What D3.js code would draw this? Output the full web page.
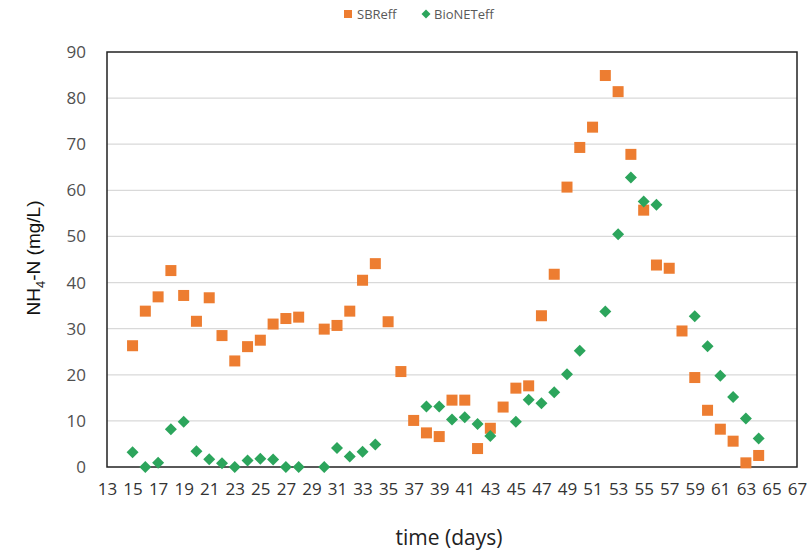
<!DOCTYPE html>
<html>
<head>
<meta charset="utf-8">
<script src="https://cdn.jsdelivr.net/npm/d3@7"></script>
<style>
  body { margin: 0; background: #fff; }
  svg { display: block; }
</style>
</head>
<body>
<div id="chart"></div>
<script>
// SBR effluent NH4-N (mg/L) by day
const sbrDays = [15,16,17,18,19,20,21,22,23,24,25,26,27,28,
  30,31,32,33,34,35,36,37,38,39,40,41,42,43,44,45,46,47,48,49,
  50,51,52,53,54,55,56,57,58,59,60,61,62,63,64];
const sbrValues = [26.3,33.8,36.9,42.6,37.2,31.6,36.7,28.5,23.0,26.1,27.5,31.0,32.2,32.5,
  29.9,30.7,33.8,40.5,44.1,31.5,20.7,10.1,7.4,6.6,14.5,14.5,4.0,8.4,13.0,17.1,17.6,32.8,41.8,60.7,
  69.3,73.7,84.9,81.4,67.8,55.7,43.8,43.1,29.5,19.4,12.3,8.2,5.6,0.9,2.5];

// BioNET effluent NH4-N (mg/L) by day
const bioDays = [15,16,17,18,19,20,21,22,23,24,25,26,27,28,
  30,31,32,33,34,38,39,40,41,42,43,45,46,47,48,49,50,
  52,53,54,55,56,59,60,61,62,63,64];
const bioValues = [3.2,0,0.9,8.2,9.8,3.4,1.7,0.8,0,1.4,1.8,1.6,0,0,
  0,4.1,2.3,3.3,4.9,13.1,13.1,10.3,10.8,9.3,6.7,9.8,14.6,13.8,16.2,20.1,25.2,
  33.7,50.5,62.8,57.6,56.9,32.7,26.2,19.8,15.2,10.5,6.2];

const xTicks = d3.range(13, 68, 2);
const yTicks = d3.range(0, 91, 10);

const seriesNames = ["SBReff", "BioNETeff"];
const colors = { SBReff: "#ed7d31", BioNETeff: "#2ca55c" };

const W = 811, H = 553;
const margin = { top: 52, right: 14, bottom: 86, left: 107 };
const width = W - margin.left - margin.right;
const height = H - margin.top - margin.bottom;

const svg = d3.select("#chart").append("svg")
  .attr("width", W)
  .attr("height", H);

const g = svg.append("g")
  .attr("transform", `translate(${margin.left},${margin.top})`);

const x = d3.scaleLinear().domain([13, 67]).range([0, width]);
const y = d3.scaleLinear().domain([0, 90]).range([height, 0]);

// horizontal gridlines
g.append("g")
  .selectAll("line")
  .data(yTicks.filter(d => d > 0 && d < 90))
  .join("line")
  .attr("x1", 0).attr("x2", width)
  .attr("y1", d => y(d)).attr("y2", d => y(d))
  .attr("stroke", "#d9d9d9")
  .attr("stroke-width", 1.2);

// y axis labels
const yAxis = g.append("g")
  .call(d3.axisLeft(y).tickValues(yTicks).tickSize(0).tickPadding(21));
yAxis.select(".domain").remove();
yAxis.selectAll("text")
  .style("font-family", "'Open Sans', sans-serif")
  .style("font-size", "17px")
  .attr("fill", "#505050");

// x axis labels
const xAxis = g.append("g")
  .attr("transform", `translate(0,${height})`)
  .call(d3.axisBottom(x).tickValues(xTicks).tickSize(0).tickPadding(16));
xAxis.select(".domain").remove();
xAxis.selectAll("text")
  .style("font-family", "'Open Sans', sans-serif")
  .style("font-size", "17px")
  .attr("fill", "#333");

// plot border
g.append("rect")
  .attr("x", 0).attr("y", 0)
  .attr("width", width).attr("height", height)
  .attr("fill", "none")
  .attr("stroke", "#222")
  .attr("stroke-width", 1.5);

// SBR squares
g.append("g")
  .selectAll("rect")
  .data(sbrDays.map((d, i) => ({ day: d, v: sbrValues[i] })))
  .join("rect")
  .attr("x", d => x(d.day) - 5.5)
  .attr("y", d => y(d.v) - 5.5)
  .attr("width", 11)
  .attr("height", 11)
  .attr("fill", colors.SBReff);

// BioNET diamonds
const diamond = "M0,-6L6,0L0,6L-6,0Z";
g.append("g")
  .selectAll("path")
  .data(bioDays.map((d, i) => ({ day: d, v: bioValues[i] })))
  .join("path")
  .attr("d", diamond)
  .attr("transform", d => `translate(${x(d.day)},${y(d.v)})`)
  .attr("fill", colors.BioNETeff);

// legend
const legend = svg.append("g").attr("transform", "translate(344,14)");
legend.append("rect")
  .attr("x", 0).attr("y", -4)
  .attr("width", 8).attr("height", 8)
  .attr("fill", colors.SBReff);
legend.append("text")
  .attr("x", 13).attr("y", 0).attr("dy", "0.35em")
  .style("font-family", "'Open Sans', sans-serif")
  .style("font-size", "13px")
  .attr("fill", "#595959")
  .text(seriesNames[0]);
legend.append("path")
  .attr("d", "M0,-4.5L4.5,0L0,4.5L-4.5,0Z")
  .attr("transform", "translate(82,0)")
  .attr("fill", colors.BioNETeff);
legend.append("text")
  .attr("x", 90).attr("y", 0).attr("dy", "0.35em")
  .style("font-family", "'Open Sans', sans-serif")
  .style("font-size", "13px")
  .attr("fill", "#595959")
  .text(seriesNames[1]);

// axis titles
svg.append("text")
  .attr("x", margin.left + width / 2 - 3)
  .attr("y", 545)
  .attr("text-anchor", "middle")
  .style("font-family", "'Open Sans', sans-serif")
  .style("font-size", "21px")
  .attr("fill", "#222")
  .text("time (days)");

const yt = svg.append("text")
  .attr("transform", "translate(40,258) rotate(-90)")
  .attr("text-anchor", "middle")
  .style("font-family", "'Liberation Sans', Arial, sans-serif")
  .style("font-size", "19px")
  .attr("fill", "#111");
yt.append("tspan").text("NH");
yt.append("tspan").attr("dy", 5).style("font-size", "13px").text("4");
yt.append("tspan").attr("dy", -5).text("-N (mg/L)");
</script>
</body>
</html>
